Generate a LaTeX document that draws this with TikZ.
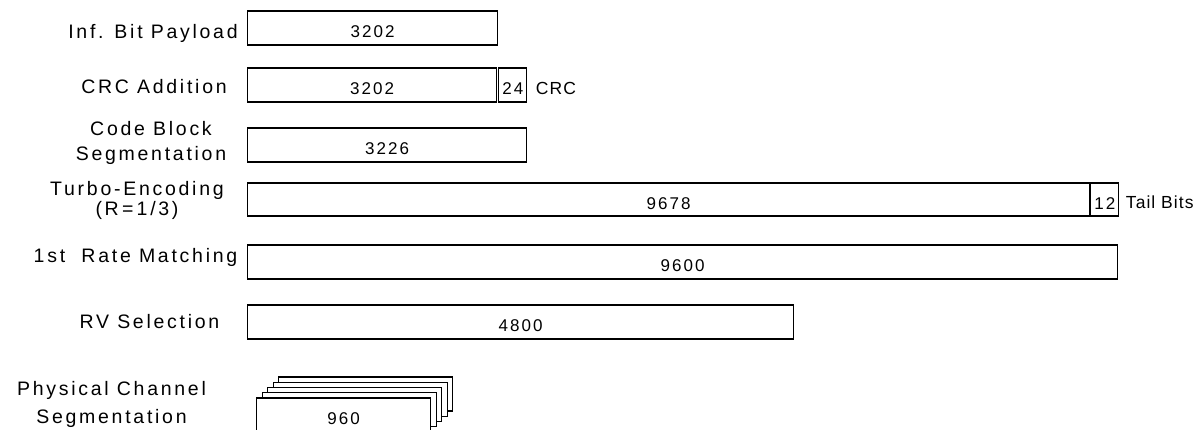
\documentclass[tikz,border=0pt]{standalone}
\usepackage{fontspec}
\setmainfont{Liberation Sans}
\newfontfamily\labfont[LetterSpace=14]{Liberation Sans}
\newfontfamily\numfont[LetterSpace=12]{Liberation Sans}
\newfontfamily\tagfont[LetterSpace=6]{Liberation Sans}
\usetikzlibrary{positioning}

\begin{document}
\begin{tikzpicture}[x=1pt, y=-1pt, node distance=0pt and 0pt,
  box/.style={draw, line width=1.2pt, minimum height=34pt, inner sep=0pt, anchor=west, fill=white,
    font=\numfont\fontsize{17}{20}\selectfont, text height=20pt},
  lab/.style={align=center, anchor=base, font=\labfont\fontsize{19.5}{25}\selectfont},
  tag/.style={font=\tagfont\fontsize{17.5}{20}\selectfont, text height=19pt}]
  \useasboundingbox (0,0) rectangle (1196,430);
  % bit fields, one row per step
  \node[box, minimum width=250pt] (pay) at (247,28) {3202};
  \node[box, minimum width=249pt] (crc) at (247,85) {3202};
  \node[box, minimum width=28pt, right=1pt of crc] (crcb) {24};
  \node[tag, right=5pt of crcb] (crct) {CRC};
  \node[box, minimum width=279pt] (cbs) at (247,145) {3226};
  \node[box, minimum width=842pt, minimum height=33pt] (turbo) at (247,199.5) {9678};
  \node[box, minimum width=28pt, minimum height=33pt, right=0pt of turbo] (tail) {12};
  \node[tag, right=3pt of tail] (tailt) {Tail Bits};
  \node[box, minimum width=870pt] (rm) at (247,262) {9600};
  \node[box, minimum width=546pt] (rv) at (247,322) {4800};
  \foreach \i in {4,...,1}
    \node[box, minimum width=174pt] (seg\i) at (256+5.5*\i,415-5.25*\i) {};
  \node[box, minimum width=174pt] (seg0) at (256,415) {960};
  % step names
  \node[lab] (lpay) at (153,39) {Inf. Bit Payload};
  \node[lab] (lcrc) at (154,94) {CRC Addition};
  \node[lab] (lcbs) at (151,161) {Code Block\\Segmentation};
  \node[lab] (lturbo) at (137,216) {Turbo-Encoding\\[-5pt](R\,=\,1/3)};
  \node[lab] (lrm) at (135.5,263) {1st\ \ Rate Matching};
  \node[lab] (lrv) at (149.5,328) {RV Selection};
  \node[lab] (lseg) at (111.5,423) {Physical Channel\\[3pt]Segmentation};
\end{tikzpicture}
\end{document}
